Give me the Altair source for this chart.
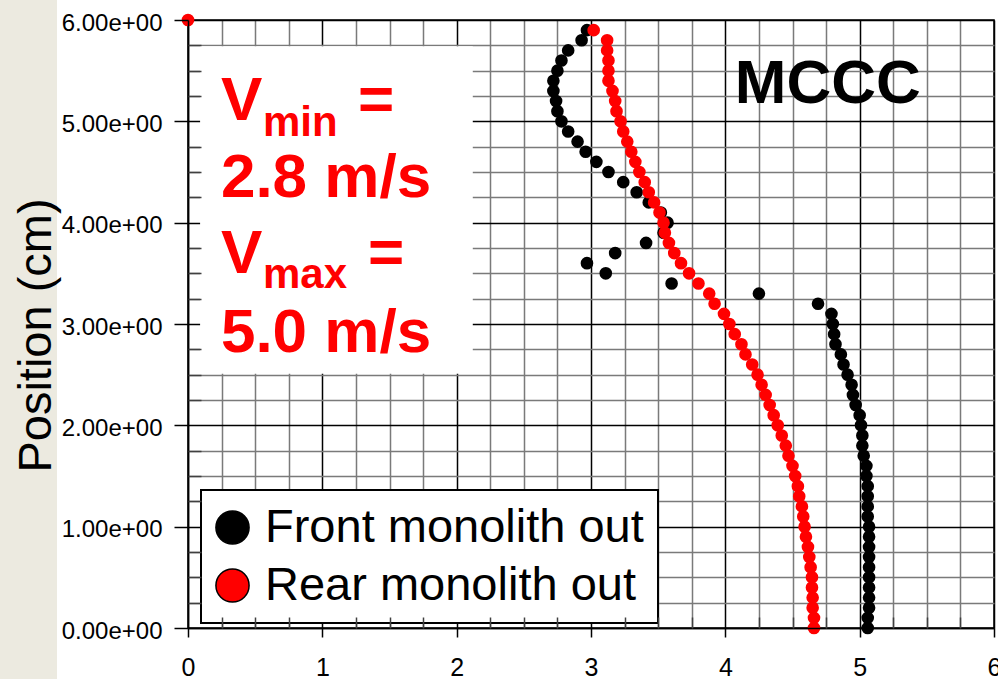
import altair as alt
import pandas as pd

# ---------------- data ----------------
POSITION = [0.0, 0.1, 0.2, 0.3, 0.4, 0.5, 0.6, 0.7, 0.8, 0.9,
            1.0, 1.1, 1.2, 1.3, 1.4, 1.5, 1.6, 1.7, 1.8, 1.9,
            2.0, 2.1, 2.2, 2.3, 2.4, 2.5, 2.6, 2.7, 2.8, 2.9,
            3.0, 3.1, 3.2, 3.3, 3.4, 3.5, 3.6, 3.7, 3.8, 3.9,
            4.0, 4.1, 4.2, 4.3, 4.4, 4.5, 4.6, 4.7, 4.8, 4.9,
            5.0, 5.1, 5.2, 5.3, 5.4, 5.5, 5.6, 5.7, 5.8, 5.9]

FRONT_VEL = [5.06, 5.06, 5.07, 5.07, 5.07, 5.07, 5.07, 5.07, 5.07, 5.07,
             5.07, 5.06, 5.06, 5.06, 5.06, 5.05, 5.05, 5.03, 5.02, 5.02,
             5.01, 5.00, 4.97, 4.95, 4.94, 4.91, 4.88, 4.86, 4.82, 4.81,
             4.80, 4.79, 4.69, 4.25, 3.60, 3.11, 2.97, 3.18, 3.41, 3.54,
             3.57, 3.52, 3.43, 3.34, 3.24, 3.13, 3.04, 2.96, 2.90, 2.83,
             2.78, 2.75, 2.74, 2.72, 2.72, 2.75, 2.78, 2.83, 2.93, 2.97]

REAR_VEL = [4.66, 4.66, 4.65, 4.65, 4.645, 4.645, 4.635, 4.625, 4.615, 4.60,
            4.59, 4.58, 4.57, 4.55, 4.54, 4.52, 4.50, 4.47, 4.45, 4.42,
            4.39, 4.36, 4.33, 4.30, 4.27, 4.24, 4.20, 4.15, 4.12, 4.07,
            4.03, 3.99, 3.92, 3.88, 3.80, 3.73, 3.67, 3.62, 3.58, 3.55,
            3.54, 3.51, 3.47, 3.43, 3.40, 3.36, 3.33, 3.30, 3.27, 3.24,
            3.22, 3.19, 3.18, 3.16, 3.13, 3.13, 3.13, 3.12, 3.12, 3.02]

REAR_EXTRA_POS = [6.0]
REAR_EXTRA_VEL = [0.0]

SERIES = ["Front monolith out", "Rear monolith out"]
COLORS = ["#000000", "#FF0000"]

MAJOR_TICKS = [0, 1, 2, 3, 4, 5, 6]
QUARTER_TICKS = [0, 0.25, 0.5, 0.75, 1, 1.25, 1.5, 1.75, 2, 2.25, 2.5, 2.75,
                 3, 3.25, 3.5, 3.75, 4, 4.25, 4.5, 4.75, 5, 5.25, 5.5, 5.75, 6]
MINOR_TICKS = [0.25, 0.5, 0.75, 1.25, 1.5, 1.75, 2.25, 2.5, 2.75, 3.25, 3.5, 3.75,
               4.25, 4.5, 4.75, 5.25, 5.5, 5.75]

Y_TITLE = "Position (cm)"
BIG_TEXT = ["V", "=", "2.8 m/s", "V", "=", "5.0 m/s"]
SUB_TEXT = ["min", "max"]
TAG_TEXT = ["MCCC"]

# ---------------- tables ----------------
df = pd.concat([
    pd.DataFrame({"Velocity": FRONT_VEL, "Position": POSITION, "Series": SERIES[0]}),
    pd.DataFrame({"Velocity": REAR_VEL + REAR_EXTRA_VEL,
                  "Position": POSITION + REAR_EXTRA_POS, "Series": SERIES[1]}),
], ignore_index=True)

# annotation placement (data units)
big_df = pd.DataFrame({"t": BIG_TEXT,
                       "x": [0.245, 1.266, 0.245, 0.245, 1.34, 0.245],
                       "y": [5.01, 5.01, 4.253, 3.503, 3.503, 2.724]})
sub_df = pd.DataFrame({"t": SUB_TEXT, "x": [0.558, 0.558], "y": [4.855, 3.355]})
tag_df = pd.DataFrame({"t": TAG_TEXT, "x": [4.07], "y": [5.18]})
box_df = pd.DataFrame({"x0": [0.09], "x1": [2.12], "y0": [2.51], "y1": [5.74]})

FONT = "Liberation Sans"
xs = alt.Scale(domain=[0, 6], nice=False, zero=False)
ys = alt.Scale(domain=[0, 6], nice=False, zero=False)

grid_color = alt.condition("datum.value % 1 === 0", alt.value("#000000"), alt.value("#7a7a7a"))

grid_x = alt.Axis(orient="bottom", values=QUARTER_TICKS, grid=True, gridColor=grid_color,
                  gridWidth=1.5, ticks=False, labels=False, domain=False, title=None, zindex=0)
grid_y = alt.Axis(orient="left", values=QUARTER_TICKS, grid=True, gridColor=grid_color,
                  gridWidth=1.5, ticks=False, labels=False, domain=False, title=None, zindex=0)

major_x = alt.Axis(orient="bottom", values=MAJOR_TICKS, grid=False, ticks=True, tickSize=9,
                   tickWidth=1.5, tickColor="black", domain=True, domainColor="black",
                   domainWidth=1.5, labels=True, labelFontSize=25, labelFont=FONT,
                   labelColor="black", labelPadding=18, labelFlush=False, format="d",
                   title=None, zindex=1)
major_y = alt.Axis(orient="left", values=MAJOR_TICKS, grid=False, ticks=True, tickSize=14,
                   tickWidth=1.5, tickColor="black", domain=True, domainColor="black",
                   domainWidth=1.5, labels=True, labelFontSize=24, labelFont=FONT,
                   labelColor="black", labelPadding=12, labelOffset=3,
                   labelExpr="format(datum.value, '.2f') + 'e+00'",
                   title=Y_TITLE, titleFont=FONT, titleFontSize=47, titleFontWeight="normal",
                   titleColor="black", titleAngle=270, titleX=-138, titleY=315,
                   titleAlign="center", titleBaseline="alphabetic", titleLimit=1000,
                   zindex=1)

minor_x = alt.Axis(orient="bottom", values=MINOR_TICKS, grid=False, ticks=True, tickSize=11,
                   offset=-11, tickWidth=1.5, tickColor="#404040", domain=False,
                   labels=False, title=None, zindex=1)
minor_y = alt.Axis(orient="left", values=MINOR_TICKS, grid=False, ticks=True, tickSize=13,
                   offset=-13, tickWidth=1.5, tickColor="#404040", domain=False,
                   labels=False, title=None, zindex=1)

beige = alt.Chart(box_df).mark_rect(color="#ECEAE0").encode(
    x=alt.value(-188), x2=alt.value(-131), y=alt.value(-20), y2=alt.value(659))

box = alt.Chart(box_df).mark_rect(color="white").encode(
    x=alt.X("x0:Q", scale=xs, axis=major_x), x2="x1:Q",
    y=alt.Y("y0:Q", scale=ys, axis=major_y), y2="y1:Q")

points = alt.Chart(df).mark_circle(size=160, opacity=1).encode(
    x=alt.X("Velocity:Q", scale=xs, axis=grid_x),
    y=alt.Y("Position:Q", scale=ys, axis=grid_y),
    color=alt.Color("Series:N", scale=alt.Scale(domain=SERIES, range=COLORS),
                    legend=alt.Legend(orient="none", legendX=13, legendY=470, title=None,
                                      fillColor="white", strokeColor="black",
                                      labelFontSize=47, labelFont=FONT, labelColor="black",
                                      labelLimit=1000, symbolSize=1100, symbolType="circle",
                                      symbolStrokeColor="black", symbolStrokeWidth=1.5,
                                      symbolOffset=-6, padding=14, rowPadding=10,
                                      labelOffset=9)),
)

ticks_layer = alt.Chart(box_df).mark_point(opacity=0).encode(
    x=alt.X("x0:Q", scale=xs, axis=minor_x),
    y=alt.Y("y0:Q", scale=ys, axis=minor_y))

big = alt.Chart(big_df).mark_text(font=FONT, fontWeight="bold", fontSize=62, color="#FF0000",
                                  align="left", baseline="alphabetic").encode(
    x=alt.X("x:Q", scale=xs, axis=None), y=alt.Y("y:Q", scale=ys, axis=None), text="t:N")
sub = alt.Chart(sub_df).mark_text(font=FONT, fontWeight="bold", fontSize=42, color="#FF0000",
                                  align="left", baseline="alphabetic").encode(
    x=alt.X("x:Q", scale=xs, axis=None), y=alt.Y("y:Q", scale=ys, axis=None), text="t:N")
tag = alt.Chart(tag_df).mark_text(font=FONT, fontWeight="bold", fontSize=62, color="#000000",
                                  align="left", baseline="alphabetic").encode(
    x=alt.X("x:Q", scale=xs, axis=None), y=alt.Y("y:Q", scale=ys, axis=None), text="t:N")

chart = alt.layer(beige, box, points, ticks_layer, big, sub, tag).resolve_axis(
    x="independent", y="independent"
).properties(
    width=806, height=608,
    autosize=alt.AutoSizeParams(type="none"),
    padding={"left": 188, "top": 20, "right": 4, "bottom": 51},
    background="white",
).configure_view(stroke="black", strokeWidth=1.5).configure_legend(strokeWidth=2)

chart.save("out.html", embed_options={"renderer": "svg", "actions": False})
